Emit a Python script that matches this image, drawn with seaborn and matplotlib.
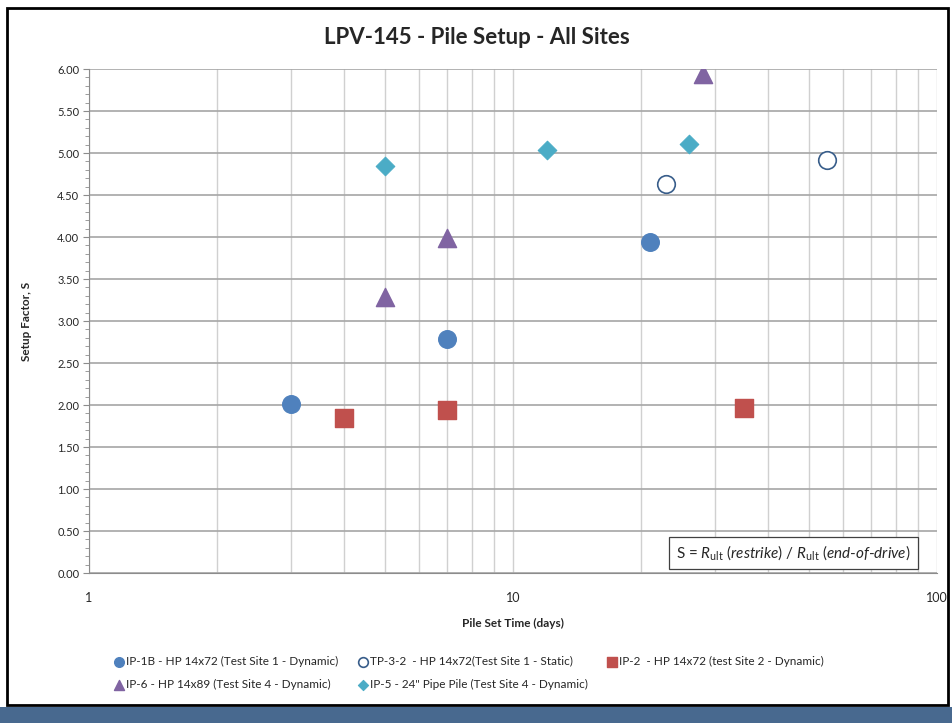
import pandas as pd
import matplotlib
matplotlib.use("Agg")
import matplotlib.pyplot as plt
import matplotlib.patches as patches
from matplotlib.ticker import LogLocator, FixedLocator, MultipleLocator, FuncFormatter
import seaborn as sns

# data (x = pile set time in days, y = setup factor)
series_names = [
    "IP-1B - HP 14x72 (Test Site 1 - Dynamic)",
    "TP-3-2  - HP 14x72(Test Site 1 - Static)",
    "IP-2  - HP 14x72 (test Site 2 - Dynamic)",
    "IP-6 - HP 14x89 (Test Site 4 - Dynamic)",
    "IP-5 - 24\" Pipe Pile (Test Site 4 - Dynamic)",
]
ip1b_days = [3, 7, 21]
ip1b_s = [2.01, 2.78, 3.94]
tp32_days = [23, 55]
tp32_s = [4.63, 4.92]
ip2_days = [4, 7, 35]
ip2_s = [1.84, 1.94, 1.96]
ip6_days = [5, 7, 28]
ip6_s = [3.29, 3.99, 5.94]
ip5_days = [5, 12, 26]
ip5_s = [4.84, 5.03, 5.11]

all_days = [ip1b_days, tp32_days, ip2_days, ip6_days, ip5_days]
all_s = [ip1b_s, tp32_s, ip2_s, ip6_s, ip5_s]

sns.set_style("white")
plt.rcParams["font.family"] = ["Lato", "DejaVu Sans"]
plt.rcParams["mathtext.fontset"] = "custom"
plt.rcParams["mathtext.rm"] = "Lato"
plt.rcParams["mathtext.it"] = "Lato:italic"

fig = plt.figure(figsize=(9.53, 7.23), dpi=100)
ax = fig.add_axes([89 / 953, 1 - 573 / 723, (937 - 89) / 953, (573 - 69) / 723])

styles = [
    dict(marker="o", color="#4F81BD", edgecolor="#4F81BD", s=160),
    dict(marker="o", color="white", edgecolor="#385D8A", s=160, linewidth=1.2),
    dict(marker="s", color="#C0504D", edgecolor="#C0504D", s=160),
    dict(marker="^", color="#8064A2", edgecolor="#8064A2", s=170),
    dict(marker="D", color="#4BACC6", edgecolor="#4BACC6", s=90),
]

for name, xs, ys, st in zip(series_names, all_days, all_s, styles):
    df = pd.DataFrame({"days": xs, "S": ys})
    sns.scatterplot(data=df, x="days", y="S", ax=ax, label=name, zorder=3, **st)

ax.set_xscale("log")
ax.set_xlim(1, 100)
ax.set_ylim(0, 6)
ax.yaxis.set_major_locator(MultipleLocator(0.5))
ax.yaxis.set_minor_locator(MultipleLocator(0.1))
ax.yaxis.set_major_formatter(FuncFormatter(lambda v, p: f"{v:.2f}"))
ax.xaxis.set_major_locator(FixedLocator([1, 10, 100]))
ax.xaxis.set_major_formatter(FuncFormatter(lambda v, p: f"{v:g}"))
ax.xaxis.set_minor_locator(LogLocator(base=10, subs=range(2, 10)))
ax.xaxis.set_minor_formatter(FuncFormatter(lambda v, p: ""))

ax.grid(axis="y", which="major", color="#a6a6a6", linewidth=1.2)
ax.grid(axis="x", which="both", color="#d0d0d0", linewidth=1.0)
ax.set_axisbelow(True)
for side in ["top", "right"]:
    ax.spines[side].set_visible(False)
for side in ["left", "bottom"]:
    ax.spines[side].set_color("#8c8c8c")
ax.tick_params(axis="y", which="major", length=4, color="#8c8c8c", labelsize=8, pad=3, left=True)
ax.tick_params(axis="y", which="minor", length=3, color="#8c8c8c", left=True)
ax.tick_params(axis="x", which="major", length=0, labelsize=9, pad=14)
ax.tick_params(axis="x", which="minor", length=0)

ax.set_xlabel("Pile Set Time (days)", fontsize=8.5, fontweight="bold", labelpad=10)
ax.set_ylabel("Setup Factor, S", fontsize=8.5, fontweight="bold", labelpad=18)
fig.text(0.5, 1 - 37 / 723, "LPV-145 - Pile Setup - All Sites", ha="center", va="center",
         fontsize=16, fontweight="bold")

ax.text((911 - 89) / 848, 0.021,
        r"S = $R_{\mathrm{ult}}\ \mathit{(restrike)}$ / $R_{\mathrm{ult}}\ \mathit{(end\text{-}of\text{-}drive)}$",
        transform=ax.transAxes, ha="right", va="bottom", fontsize=11,
        bbox=dict(boxstyle="square,pad=0.45", facecolor="white", edgecolor="#404040", linewidth=0.9))

# legend laid out row by row like the original
handles, labels = ax.get_legend_handles_labels()
order = [0, 3, 1, 4, 2]
leg = ax.legend([handles[i] for i in order], [labels[i] for i in order],
                loc="upper left", bbox_to_anchor=(102 / 953, 1 - 645 / 723),
                bbox_transform=fig.transFigure, ncol=3, frameon=False,
                fontsize=8.5, markerscale=0.55, handletextpad=0.1, columnspacing=1.6,
                labelspacing=1.05, handlelength=1.0)

# outer chart frame and bottom strip
fig.patches.append(patches.Rectangle((7 / 953, 1 - 705 / 723), 941 / 953, 697 / 723,
                                     transform=fig.transFigure, fill=False,
                                     edgecolor="black", linewidth=2))
fig.patches.append(patches.Rectangle((0, 0), 1, 16 / 723, transform=fig.transFigure,
                                     facecolor="#48698F", edgecolor="none"))

fig.savefig("out.png", dpi=100)
